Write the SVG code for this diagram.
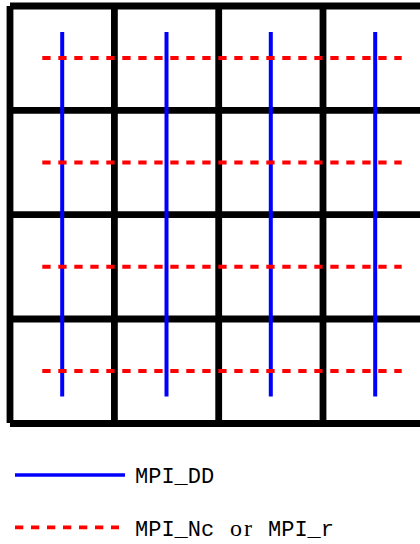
<svg xmlns="http://www.w3.org/2000/svg" width="420" height="544" viewBox="0 0 420 544">
<style>
.grid{stroke:#000;stroke-width:6.8;stroke-linecap:butt;fill:none}
.dd{stroke:#0000ff;stroke-width:4;fill:none}
.nc{stroke:#ff0000;stroke-width:4;stroke-dasharray:8.3 7.7;fill:none}
.tt{font-family:"Liberation Mono","DejaVu Sans Mono",monospace;font-size:22px;fill:#000}
.rm{font-family:"Liberation Serif","DejaVu Serif",serif;font-size:24px;letter-spacing:2px;fill:#000}
</style>
<rect width="420" height="544" fill="#fff"/>
<g id="grid">
<line class="grid" x1="10" y1="6" x2="430" y2="6"/>
<line class="grid" x1="10" y1="110.3" x2="430" y2="110.3"/>
<line class="grid" x1="10" y1="214.6" x2="430" y2="214.6"/>
<line class="grid" x1="10" y1="319" x2="430" y2="319"/>
<line class="grid" x1="10" y1="423.5" x2="430" y2="423.5"/>
<line class="grid" x1="10" y1="6" x2="10" y2="423"/>
<line class="grid" x1="114.4" y1="6" x2="114.4" y2="423.5"/>
<line class="grid" x1="218.7" y1="6" x2="218.7" y2="423.5"/>
<line class="grid" x1="323" y1="6" x2="323" y2="423.5"/>
</g>
<g id="connectors">
<line class="dd" x1="62.2" y1="32" x2="62.2" y2="396.6"/>
<line class="dd" x1="166.5" y1="32" x2="166.5" y2="396.6"/>
<line class="dd" x1="270.8" y1="32" x2="270.8" y2="396.6"/>
<line class="dd" x1="375.2" y1="32" x2="375.2" y2="396.6"/>
<line class="nc" x1="42.3" y1="58.1" x2="401.7" y2="58.1"/>
<line class="nc" x1="42.3" y1="162.4" x2="401.7" y2="162.4"/>
<line class="nc" x1="42.3" y1="266.7" x2="401.7" y2="266.7"/>
<line class="nc" x1="42.3" y1="371" x2="401.7" y2="371"/>
</g>
<g id="legend">
<line class="dd" x1="15" y1="475" x2="125" y2="475" style="stroke-width:3.6"/>
<text class="tt" x="135" y="483.3">MPI_DD</text>
<line class="nc" x1="15" y1="527.3" x2="119" y2="527.3" style="stroke-width:3.8"/>
<text y="536"><tspan class="tt" x="135">MPI_Nc</tspan><tspan class="rm" x="230">or</tspan><tspan class="tt" x="268">MPI_r</tspan></text>
</g>
</svg>
